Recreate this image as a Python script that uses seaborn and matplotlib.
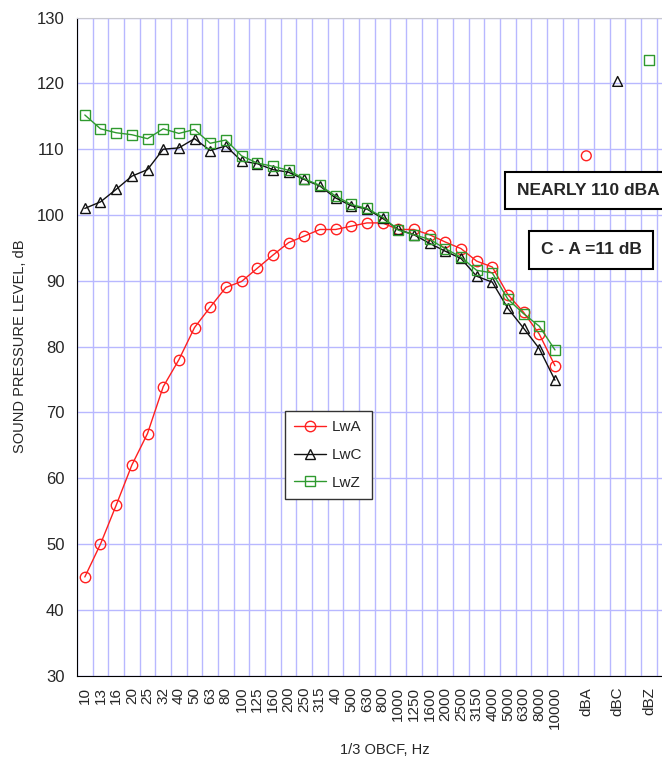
import numpy as np
import pandas as pd
import seaborn as sns
import matplotlib.pyplot as plt
from matplotlib.ticker import MultipleLocator, FixedLocator

# 1/3 octave band centre frequencies (as labelled on the chart)
bands = ["10", "13", "16", "20", "25", "32", "40", "50", "63", "80",
         "100", "125", "160", "200", "250", "315", "40", "500", "630", "800",
         "1000", "1250", "1600", "2000", "2500", "3150", "4000", "5000",
         "6300", "8000", "10000"]
totals = ["dBA", "dBC", "dBZ"]

lwa = [45.0, 50.0, 55.9, 62.0, 66.8, 73.9, 78.0, 82.9, 86.0, 89.0,
       89.9, 91.9, 93.9, 95.8, 96.8, 97.8, 97.8, 98.3, 98.8, 98.8,
       97.8, 97.8, 97.0, 95.9, 94.9, 93.0, 92.1, 87.9, 85.2, 81.9, 77.1]
lwc = [101.0, 102.0, 103.9, 105.9, 106.9, 110.0, 110.2, 111.6, 109.8, 110.5,
       108.2, 107.8, 106.9, 106.5, 105.4, 104.4, 102.6, 101.4, 100.9, 99.5,
       97.8, 97.0, 95.7, 94.5, 93.4, 90.7, 89.8, 85.8, 82.8, 79.7, 74.9]
lwz = [115.2, 113.1, 112.5, 112.2, 111.6, 113.1, 112.4, 113.0, 110.9, 111.4,
       109.0, 107.9, 107.4, 106.8, 105.5, 104.5, 102.9, 101.6, 101.0, 99.7,
       97.7, 97.0, 96.3, 94.9, 93.6, 91.6, 91.2, 87.2, 85.0, 83.1, 79.5]
total_levels = [109.0, 120.3, 123.5]

series_names = ["LwA", "LwC", "LwZ"]
colors = ["#ff2020", "#111111", "#2f9a2f"]
markers = ["o", "^", "s"]

sns.set_style("white")
plt.rcParams['font.family'] = ['Liberation Sans', 'DejaVu Sans']

fig = plt.figure(figsize=(6.62, 7.58), dpi=100)
ax = fig.add_axes([0.1163, 0.1086, 0.8837, 0.8682])

band_pos = np.arange(len(bands))
total_pos = len(bands) + 1 + 2 * np.arange(len(totals))

df = pd.DataFrame({"pos": band_pos, "LwA": lwa, "LwC": lwc, "LwZ": lwz})

for name, col, mk in zip(series_names, colors, markers):
    sns.lineplot(data=df, x="pos", y=name, ax=ax, color=col, lw=1,
                 marker=mk, markersize=7.5 if mk != "s" else 7,
                 markerfacecolor="none", markeredgecolor=col,
                 markeredgewidth=1, label=name)

for i, (col, mk) in enumerate(zip(colors, markers)):
    sns.scatterplot(x=[total_pos[i]], y=[total_levels[i]], ax=ax,
                    marker=mk, s=50, facecolor="none", edgecolor=col,
                    linewidth=1, legend=False, zorder=3)

# axes, ticks, grid
labels = bands + sum([["", t] for t in totals], [])
ax.set_xlim(-0.5, 36.83)
ax.set_ylim(30, 130)
ax.xaxis.set_major_locator(FixedLocator(np.arange(len(labels))))
ax.set_xticklabels(labels, rotation=90, fontsize=11)
ax.xaxis.set_minor_locator(FixedLocator(np.arange(len(labels) + 1) - 0.5))
ax.tick_params(axis="x", which="major", length=0, pad=8)
ax.tick_params(axis="x", which="minor", direction="inout", length=7,
               width=1, color="black")
ax.yaxis.set_major_locator(MultipleLocator(10))
ax.yaxis.set_minor_locator(MultipleLocator(2))
ax.tick_params(axis="y", which="major", direction="inout", length=10,
               width=1, labelsize=12, color="black", pad=4)
ax.tick_params(axis="y", which="minor", direction="inout", length=7,
               width=1, color="black")
ax.grid(False)
ax.grid(True, axis="x", which="minor", color="#b8b8ff", lw=1)
ax.grid(True, axis="y", which="major", color="#b8b8ff", lw=1)
ax.set_axisbelow(True)

ax.spines["left"].set_color("black")
ax.spines["bottom"].set_color("black")
ax.spines["top"].set_color("#c8c8d0")
ax.spines["right"].set_visible(False)

ax.set_xlabel("1/3 OBCF, Hz", fontsize=10.5)
ax.xaxis.set_label_coords(0.526, -0.102)
ax.set_ylabel("SOUND PRESSURE LEVEL, dB", fontsize=10.5)
ax.yaxis.set_label_coords(-0.086, 0.5)

leg = ax.legend(loc="upper left", bbox_to_anchor=(0.355, 0.402),
                borderaxespad=0, fancybox=False, framealpha=1,
                edgecolor="#333333", fontsize=11, handlelength=2.1,
                handletextpad=0.4, labelspacing=0.9, borderpad=0.6)
leg.get_frame().set_linewidth(1)

box = dict(boxstyle="square,pad=0.65", fc="white", ec="black", lw=1.5)
ax.text(32.1, 103.7, "NEARLY 110 dBA", ha="center", va="center",
        fontsize=12.5, fontweight="bold", bbox=box, zorder=5)
ax.text(32.3, 94.7, "C - A =11 dB", ha="center", va="center",
        fontsize=12.5, fontweight="bold", bbox=box, zorder=5)

fig.savefig("out.png", dpi=100)
